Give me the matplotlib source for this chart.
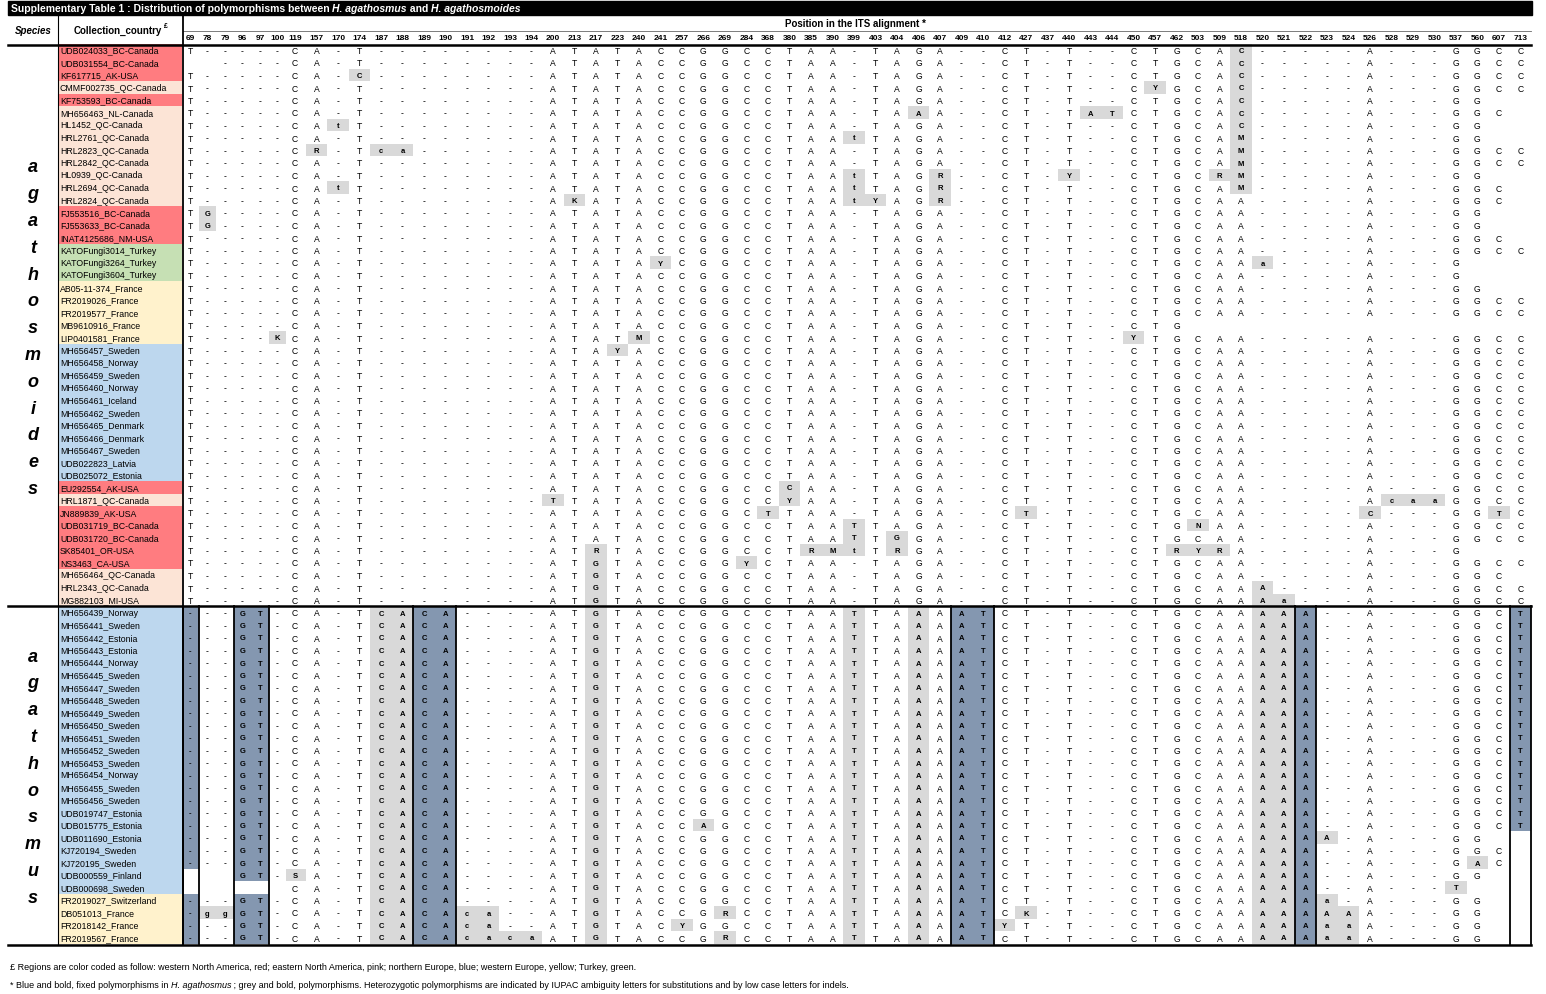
import matplotlib
matplotlib.use("Agg")
import matplotlib.pyplot as plt
from matplotlib.patches import Rectangle

plt.rcParams["font.family"] = ["Liberation Sans Narrow", "Liberation Sans", "DejaVu Sans"]

# ---------------------------------------------------------------------------
# Data
# ---------------------------------------------------------------------------
positions = [69, 78, 79, 96, 97, 100, 119, 157, 170, 174, 187, 188, 189, 190,
             191, 192, 193, 194, 200, 213, 217, 223, 240, 241, 257, 266, 269,
             284, 368, 380, 385, 390, 399, 403, 404, 406, 407, 409, 410, 412,
             427, 437, 440, 443, 444, 450, 457, 462, 503, 509, 518, 520, 521,
             522, 523, 524, 526, 528, 529, 530, 537, 560, 607, 713]

base_agathosmoides = "T-----CA-T" "--------" "ATATACCGGCCT" "AA-TAGA--CT-T--CTGCAA" "-----A---GGCC"
base_agathosmus = "---GT-CA-T" "CACA----" "ATGTACCGGCCT" "AATTAAAATCT-T--CTGCAA" "AAA--A---GGCT"

# (name, region, overrides "pos:char", last filled position)
agathosmoides_rows = [
    ("UDB024033_BC-Canada", "R", "518:C", None),
    ("UDB031554_BC-Canada", "R", "69:_ 78:_ 518:C", None),
    ("KF617715_AK-USA", "R", "174:C 518:C", None),
    ("CMMF002735_QC-Canada", "P", "457:Y 518:C", None),
    ("KF753593_BC-Canada", "R", "518:C", 560),
    ("MH656463_NL-Canada", "P", "406:A 443:A 444:T 518:C", 607),
    ("HL1452_QC-Canada", "P", "170:t 518:C", 560),
    ("HRL2761_QC-Canada", "P", "399:t 518:M", 560),
    ("HRL2823_QC-Canada", "P", "157:R 187:c 188:a 518:M", None),
    ("HRL2842_QC-Canada", "P", "518:M", None),
    ("HL0939_QC-Canada", "P", "399:t 407:R 440:Y 509:R 518:M", 560),
    ("HRL2694_QC-Canada", "P", "170:t 399:t 407:R 518:M", 607),
    ("HRL2824_QC-Canada", "P", "213:K 399:t 403:Y 407:R", 607),
    ("FJ553516_BC-Canada", "R", "78:G", 560),
    ("FJ553633_BC-Canada", "R", "78:G", 560),
    ("INAT4125686_NM-USA", "R", "", 607),
    ("KATOFungi3014_Turkey", "G", "", None),
    ("KATOFungi3264_Turkey", "G", "241:Y 520:a", 537),
    ("KATOFungi3604_Turkey", "G", "", 537),
    ("AB05-11-374_France", "Y", "", 560),
    ("FR2019026_France", "Y", "", None),
    ("FR2019577_France", "Y", "", None),
    ("MB9610916_France", "Y", "", 462),
    ("LIP0401581_France", "Y", "100:K 240:M 450:Y", None),
    ("MH656457_Sweden", "B", "223:Y", None),
    ("MH656458_Norway", "B", "", None),
    ("MH656459_Sweden", "B", "", None),
    ("MH656460_Norway", "B", "", None),
    ("MH656461_Iceland", "B", "", None),
    ("MH656462_Sweden", "B", "", None),
    ("MH656465_Denmark", "B", "", None),
    ("MH656466_Denmark", "B", "", None),
    ("MH656467_Sweden", "B", "", None),
    ("UDB022823_Latvia", "B", "", None),
    ("UDB025072_Estonia", "B", "", None),
    ("EU292554_AK-USA", "R", "380:C", None),
    ("HRL1871_QC-Canada", "P", "200:T 380:Y 528:c 529:a 530:a", None),
    ("JN889839_AK-USA", "R", "368:T 427:T 526:C 607:T", None),
    ("UDB031719_BC-Canada", "R", "399:T 503:N", None),
    ("UDB031720_BC-Canada", "R", "399:T 404:G", None),
    ("SK85401_OR-USA", "R", "217:R 385:R 390:M 399:t 404:R 462:R 503:Y 509:R", 537),
    ("NS3463_CA-USA", "R", "217:G 284:Y", None),
    ("MH656464_QC-Canada", "P", "217:G", 607),
    ("HRL2343_QC-Canada", "P", "217:G 520:A", None),
    ("MG882103_MI-USA", "P", "217:G 520:A 521:a", None),
]

agathosmus_rows = [(f"MH6564{n}_{c}", "B", "", None) for n, c in [
    ("39", "Norway"), ("41", "Sweden"), ("42", "Estonia"), ("43", "Estonia"),
    ("44", "Norway"), ("45", "Sweden"), ("47", "Sweden"), ("48", "Sweden"),
    ("49", "Sweden"), ("50", "Sweden"), ("51", "Sweden"), ("52", "Sweden"),
    ("53", "Sweden"), ("54", "Norway"), ("55", "Sweden"), ("56", "Sweden")]] + [
    ("UDB019747_Estonia", "B", "", None),
    ("UDB015775_Estonia", "B", "266:A", None),
    ("UDB011690_Estonia", "B", "523:A", 560),
    ("KJ720194_Sweden", "B", "", 607),
    ("KJ720195_Sweden", "B", "560:A", 607),
    ("UDB000559_Finland", "B", "69:_ 78:_ 79:_ 119:S", 560),
    ("UDB000698_Sweden", "B", "69:_ 78:_ 79:_ 96:_ 97:_ 100:_ 537:T", 537),
    ("FR2019027_Switzerland", "Y", "523:a", 560),
    ("DB051013_France", "Y", "78:g 79:g 191:c 192:a 269:R 427:K 523:A 524:A", 560),
    ("FR2018142_France", "Y", "191:c 192:a 257:Y 412:Y 523:a 524:a", 560),
    ("FR2019567_France", "Y", "191:c 192:a 193:c 194:a 269:R 523:a 524:a", 560),
]

blue_cols = [69, 96, 97, 189, 190, 409, 410, 522, 713]
blue_groups = [(69, 69), (96, 97), (189, 190), (409, 410), (522, 522), (713, 713)]
grey_cols = [187, 188, 217, 399, 406, 520, 521]

region_colors = {"R": "#ff7c80", "P": "#fce4d6", "B": "#bdd7ee",
                 "Y": "#fff2cc", "G": "#c6e0b4"}
GREY = "#d9d9d9"
BLUE = "#8497b0"

# ---------------------------------------------------------------------------
# Layout (pixel coordinates)
# ---------------------------------------------------------------------------
W, H = 1546, 995
ROW0, ROWH = 51, 12.5


def col_x(i):
    return 190 + 17.5 * i if i <= 6 else 295 + 21.5 * (i - 6)


def col_w(i):
    return 17.5 if i < 6 else 21.5


def col_left(i):
    if i == 0:
        return 183
    return (col_x(i - 1) + col_x(i)) / 2


def col_right(i):
    if i == len(positions) - 1:
        return 1531
    return (col_x(i) + col_x(i + 1)) / 2


fig = plt.figure(figsize=(W / 100, H / 100), dpi=100)
ax = fig.add_axes([0, 0, 1, 1])
ax.set_xlim(0, W)
ax.set_ylim(H, 0)
ax.axis("off")


def rich_text(x, y, parts, **kw):
    fig.canvas.draw()
    r = fig.canvas.get_renderer()
    for s, style in parts:
        t = ax.text(x, y, s, va="center", ha="left", fontstyle=style, **kw)
        bb = t.get_window_extent(renderer=r)
        x += bb.width


# title bar
ax.add_patch(Rectangle((8, 2), 1524, 14, color="black"))
rich_text(11, 9, [("Supplementary Table 1 : Distribution of polymorphisms between ", "normal"),
                  ("H. agathosmus", "italic"), (" and ", "normal"),
                  ("H. agathosmoides", "italic")],
          color="white", fontsize=7.5, fontweight="bold")

# header
ax.text(33, 31, "Species", ha="center", va="center", fontsize=7,
        fontweight="bold", fontstyle="italic")
ax.text(118, 31, "Collection_country", ha="center", va="center", fontsize=7,
        fontweight="bold")
ax.text(166, 26, "£", ha="center", va="center", fontsize=5, fontweight="bold")
ax.text(855, 24, "Position in the ITS alignment *", ha="center", va="center",
        fontsize=7, fontweight="bold")
ax.plot([183, 1531], [31.5, 31.5], color="#666666", lw=0.6)
for i, p in enumerate(positions):
    ax.text(col_x(i), 39, str(p), ha="center", va="center", fontsize=6,
            fontweight="bold")

rows = [(r, "moides") for r in agathosmoides_rows] + [(r, "mus") for r in agathosmus_rows]
base = {"moides": base_agathosmoides, "mus": base_agathosmus}
pos_idx = {p: i for i, p in enumerate(positions)}

for ri, ((name, region, ovr, last), sp) in enumerate(rows):
    yc = ROW0 + ROWH * ri
    top = yc - ROWH / 2
    ax.add_patch(Rectangle((58, top), 124, ROWH, color=region_colors[region], lw=0))
    ax.text(60, yc, name, ha="left", va="center", fontsize=6.3)
    chars = list(base[sp])
    grey = set()
    for tok in ovr.split():
        p, c = tok.split(":")
        i = pos_idx[int(p)]
        chars[i] = " " if c == "_" else c
        if c != "_":
            grey.add(i)
    if last is not None:
        for i in range(pos_idx[last] + 1, len(positions)):
            chars[i] = " "
    for i, c in enumerate(chars):
        if c == " ":
            continue
        bold = i in grey
        fc = None
        if sp == "mus" and positions[i] in blue_cols:
            fc, bold = BLUE, True
        elif sp == "mus" and positions[i] in grey_cols:
            fc, bold = GREY, True
        if i in grey:
            fc = GREY
        if fc:
            ax.add_patch(Rectangle((col_left(i), top), col_right(i) - col_left(i),
                                   ROWH, color=fc, lw=0))
        ax.text(col_x(i), yc + 0.5, c, ha="center", va="center",
                fontsize=5.5 if bold else 6.2,
                fontweight="bold" if bold else "normal")

# blue group borders in the agathosmus block
y_top = ROW0 + ROWH * (len(agathosmoides_rows) - 0.5)
y_bot = ROW0 + ROWH * (len(rows) - 0.5)
for a, b in blue_groups:
    for xx in (col_left(pos_idx[a]), col_right(pos_idx[b])):
        ax.plot([xx, xx], [y_top, y_bot], color="black", lw=1.3)

# species labels
for k, ch in enumerate("agathosmoides"):
    ax.text(33, 168 + 26.8 * k, ch, ha="center", va="center", fontsize=13,
            fontweight="bold", fontstyle="italic", family="Liberation Sans")
for k, ch in enumerate("agathosmus"):
    ax.text(33, 657 + 26.8 * k, ch, ha="center", va="center", fontsize=13,
            fontweight="bold", fontstyle="italic", family="Liberation Sans")

# rules
ax.plot([8, 1531], [45.5, 45.5], color="black", lw=1.8)
ax.plot([8, 1531], [y_top, y_top], color="black", lw=1.8)
ax.plot([8, 1531], [y_bot + 1, y_bot + 1], color="black", lw=1.8)
ax.plot([57.5, 57.5], [17, y_bot], color="black", lw=0.8)
ax.plot([182.5, 182.5], [17, y_bot], color="black", lw=1.3)

# footnotes
ax.text(10, 968, "£ Regions are color coded as follow: western North America, red; "
        "eastern North America, pink; northern Europe, blue; western Europe, yellow; "
        "Turkey, green.", ha="left", va="center", fontsize=6.5)
rich_text(10, 985, [("* Blue and bold, fixed polymorphisms in ", "normal"),
                    ("H. agathosmus", "italic"),
                    (" ; grey and bold, polymorphisms. Heterozygotic polymorphisms are "
                     "indicated by IUPAC ambiguity letters for substitutions and by low "
                     "case letters for indels.", "normal")], fontsize=6.5)

fig.savefig("out.png", dpi=100)
